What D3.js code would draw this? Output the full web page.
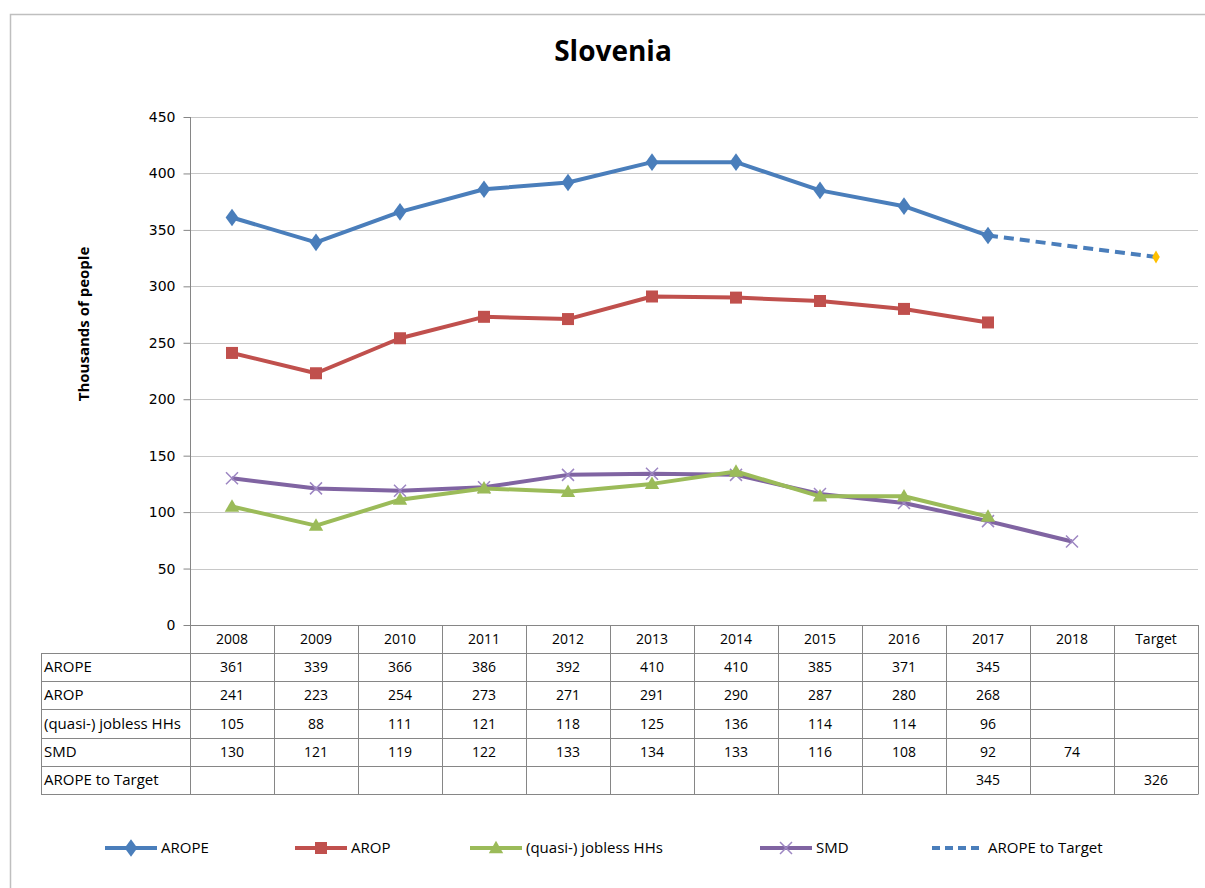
<!DOCTYPE html>
<html>
<head>
<meta charset="utf-8">
<script src="https://cdn.jsdelivr.net/npm/d3@7"></script>
<style>
body { margin: 0; background: #fff; }
svg { font-family: "Open Sans", "Noto Sans", sans-serif; }
</style>
</head>
<body>
<svg id="chart" width="1205" height="888"></svg>
<script>
// categories and series (thousands of people)
var Years = ["2008", "2009", "2010", "2011", "2012", "2013", "2014", "2015", "2016", "2017", "2018", "Target"];
var AROPE = [361, 339, 366, 386, 392, 410, 410, 385, 371, 345, null, null];
var AROP = [241, 223, 254, 273, 271, 291, 290, 287, 280, 268, null, null];
var Jobless = [105, 88, 111, 121, 118, 125, 136, 114, 114, 96, null, null];
var SMD = [130, 121, 119, 122, 133, 134, 133, 116, 108, 92, 74, null];
var ToTarget = [null, null, null, null, null, null, null, null, null, 345, null, 326];
var YTicks = [0, 50, 100, 150, 200, 250, 300, 350, 400, 450];

var SeriesList = [
	{name: "AROPE", values: AROPE, color: "#4a7ebb", marker: "diamond"},
	{name: "AROP", values: AROP, color: "#c0504d", marker: "square"},
	{name: "(quasi-) jobless HHs", values: Jobless, color: "#9bbb59", marker: "triangle"},
	{name: "SMD", values: SMD, color: "#8064a2", marker: "cross"},
	{name: "AROPE to Target", values: ToTarget, color: "#4a7ebb", marker: "target", dashed: true}
];

var svg = d3.select("#chart");

// outer frame
svg.append("path")
	.attr("d", "M10.5,888 L10.5,14.5 L1205,14.5")
	.attr("fill", "none")
	.attr("stroke", "#bfbfbf")
	.attr("stroke-width", 1.5);

svg.append("text")
	.attr("x", 613).attr("y", 61)
	.attr("text-anchor", "middle")
	.attr("font-size", 28).attr("font-weight", "bold")
	.attr("fill", "#000")
	.text("Slovenia");

var x = d3.scaleBand().domain(Years).range([190, 1198]);
var y = d3.scaleLinear().domain([0, 450]).range([625, 117]);

// gridlines
svg.append("g")
	.selectAll("line")
	.data(YTicks.filter(function(d) { return d > 0; }))
	.join("line")
	.attr("x1", 190).attr("x2", 1198)
	.attr("y1", function(d) { return Math.round(y(d)) + 0.5; })
	.attr("y2", function(d) { return Math.round(y(d)) + 0.5; })
	.attr("stroke", "#c8c8c8");

// y axis
var yAxis = svg.append("g")
	.attr("transform", "translate(190.5,0)")
	.call(d3.axisLeft(y).tickValues(YTicks).tickSize(7).tickPadding(8));
yAxis.selectAll("path, line").attr("stroke", "#868686");
yAxis.selectAll("text").attr("font-size", 14).attr("fill", "#000")
	.attr("font-family", "DejaVu Sans, Verdana, sans-serif");
yAxis.select(".domain").attr("d", "M0,117V625");

svg.append("text")
	.attr("transform", "translate(89,324) rotate(-90)")
	.attr("text-anchor", "middle")
	.attr("font-size", 15).attr("font-weight", "bold")
	.attr("fill", "#000")
	.text("Thousands  of people");

// data table
var rowTop = 625, headH = 28, rowH = 28.2, labelX = 41;
var table = svg.append("g").attr("font-size", 14).attr("fill", "#000");
var gridColor = "#868686";

// horizontal rules
var nRows = SeriesList.length;
var rowYs = [rowTop];
for (var r = 0; r <= nRows; r++) rowYs.push(rowTop + headH + r * rowH);
table.selectAll("line.h")
	.data(rowYs)
	.join("line")
	.attr("class", "h")
	.attr("x1", function(d, i) { return i < 1 ? 190 : labelX; })
	.attr("x2", 1198)
	.attr("y1", function(d) { return Math.round(d) + 0.5; })
	.attr("y2", function(d) { return Math.round(d) + 0.5; })
	.attr("stroke", gridColor);

// vertical rules
var colXs = Years.map(function(d) { return x(d); }).concat([1198]);
table.selectAll("line.v")
	.data(colXs)
	.join("line")
	.attr("class", "v")
	.attr("x1", function(d) { return Math.round(d) + 0.5; })
	.attr("x2", function(d) { return Math.round(d) + 0.5; })
	.attr("y1", rowTop)
	.attr("y2", Math.round(rowYs[rowYs.length - 1]) + 0.5)
	.attr("stroke", gridColor);
table.append("line")
	.attr("x1", labelX + 0.5).attr("x2", labelX + 0.5)
	.attr("y1", Math.round(rowYs[1]) + 0.5)
	.attr("y2", Math.round(rowYs[rowYs.length - 1]) + 0.5)
	.attr("stroke", gridColor);

table.selectAll("text.head")
	.data(Years)
	.join("text")
	.attr("class", "head")
	.attr("x", function(d) { return x(d) + x.bandwidth() / 2; })
	.attr("y", rowTop + headH / 2 + 5)
	.attr("text-anchor", "middle")
	.text(function(d) { return d; });

SeriesList.forEach(function(s, i) {
	var cy = rowYs[i + 1] + rowH / 2 + 5;
	table.append("text")
		.attr("x", labelX + 3).attr("y", cy)
		.attr("font-size", 15)
		.text(s.name);
	table.selectAll("text.v" + i)
		.data(s.values.map(function(v, j) { return {v: v, c: Years[j]}; }).filter(function(d) { return d.v != null; }))
		.join("text")
		.attr("x", function(d) { return x(d.c) + x.bandwidth() / 2; })
		.attr("y", cy)
		.attr("text-anchor", "middle")
		.text(function(d) { return d.v; });
});

// lines
var cx = function(i) { return x(Years[i]) + x.bandwidth() / 2; };
function pts(values) {
	return values.map(function(v, i) { return {i: i, v: v}; }).filter(function(d) { return d.v != null; });
}
var line = d3.line()
	.x(function(d) { return cx(d.i); })
	.y(function(d) { return y(d.v); });

function drawMarker(g, kind, color, px, py) {
	if (kind === "diamond") {
		g.append("path").attr("d", d3.symbol().type(d3.symbolDiamond).size(90)())
			.attr("transform", "translate(" + px + "," + py + ") scale(1.25,1)")
			.attr("fill", color);
	} else if (kind === "square") {
		g.append("rect").attr("x", px - 6).attr("y", py - 6).attr("width", 12).attr("height", 12).attr("fill", color);
	} else if (kind === "triangle") {
		g.append("path").attr("d", d3.symbol().type(d3.symbolTriangle).size(90)())
			.attr("transform", "translate(" + px + "," + (py + 1) + ")")
			.attr("fill", color);
	} else if (kind === "cross") {
		g.append("path").attr("d", "M-6,-6L6,6M-6,6L6,-6")
			.attr("transform", "translate(" + px + "," + py + ")")
			.attr("stroke", "#9d86c2").attr("stroke-width", 1.5).attr("fill", "none");
	} else if (kind === "target") {
		g.append("path").attr("d", d3.symbol().type(d3.symbolDiamond).size(50)())
			.attr("transform", "translate(" + px + "," + py + ")")
			.attr("fill", "#ffc000");
	}
}

var plot = svg.append("g");
var drawOrder = [4, 3, 2, 1, 0];
drawOrder.forEach(function(k) {
	var s = SeriesList[k];
	var p = pts(s.values);
	plot.append("path")
		.attr("d", line(p))
		.attr("fill", "none")
		.attr("stroke", s.color)
		.attr("stroke-width", 4)
		.attr("stroke-linejoin", "round")
		.attr("stroke-dasharray", s.dashed ? "10,6" : null);
	p.forEach(function(d) {
		if (s.marker === "target" && d.i !== Years.length - 1) return;
		drawMarker(plot, s.marker, s.color, cx(d.i), y(d.v));
	});
});

// legend
var legendX = [105, 295, 470, 760, 932];
var legend = svg.append("g").attr("font-size", 15).attr("fill", "#000");
SeriesList.forEach(function(s, i) {
	var lx = legendX[i], ly = 848;
	legend.append("line")
		.attr("x1", lx).attr("x2", lx + 52)
		.attr("y1", ly).attr("y2", ly)
		.attr("stroke", s.color).attr("stroke-width", 4)
		.attr("stroke-dasharray", s.dashed ? "8,5" : null);
	if (!s.dashed) drawMarker(legend, s.marker, s.color, lx + 26, ly);
	legend.append("text")
		.attr("x", lx + 56).attr("y", ly + 5)
		.text(s.name);
});
</script>
</body>
</html>
